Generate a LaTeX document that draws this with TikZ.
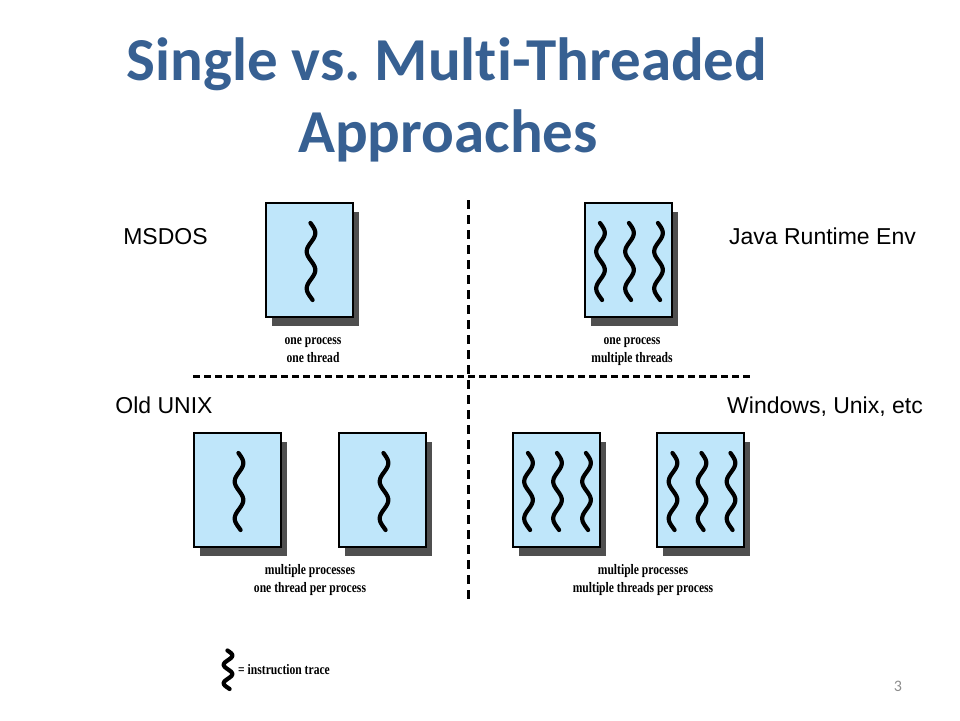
\documentclass[tikz,border=0pt]{standalone}
\usepackage{fontspec}
\setmainfont{Liberation Sans}
\newfontfamily\titlefont[Ligatures=NoCommon]{Carlito}
\newfontfamily\figfont[FakeStretch=0.8]{Liberation Serif}
\usetikzlibrary{shadows}
\definecolor{titleblue}{HTML}{376092}
\definecolor{procfill}{HTML}{BFE6FA}
\definecolor{shadowgray}{HTML}{4F4F4F}
\definecolor{pagegray}{HTML}{8C8C8C}
\frenchspacing
\begin{document}
\begin{tikzpicture}[x=1pt,y=-1pt,
  procbox/.style={draw=black, line width=2pt, fill=procfill,
    minimum width=87pt, minimum height=114pt, inner sep=0pt,
    drop shadow={shadow xshift=6pt, shadow yshift=-9pt, fill=shadowgray, opacity=1}},
  titletext/.style={text=titleblue, inner sep=0pt, anchor=base,
    font=\titlefont\bfseries\fontsize{61}{72}\selectfont},
  oslabel/.style={inner sep=0pt, anchor=base, font=\fontsize{23}{28}\selectfont},
  figlabel/.style={inner sep=0pt, anchor=base, font=\figfont\bfseries\fontsize{14.5}{16}\selectfont},
  divider/.style={line width=3pt},
  trace/.pic={\draw[line width=4.2pt, line cap=round]
     plot[smooth, domain=-37:40, samples=50] ({1.5+4.3*sin((\x+36.25)*9.72973)}, \x);}
]
\useasboundingbox (0,0) rectangle (960,720);

% title
\node[titletext] (title1) at (447,80) {Single vs.\ Multi-Threaded};
\node[titletext] (title2) at (448,152) {Approaches};

% dividers
\coordinate (vtop) at (468,200);
\coordinate (vbot) at (468,604);
\coordinate (hleft) at (193,376);
\coordinate (hright) at (750,376);
\draw[divider, dash pattern=on 9pt off 6pt] (vtop) -- (vbot);
\draw[divider, dash pattern=on 7pt off 4pt] (hleft) -- (hright);

% process boxes
\node[procbox] (pA) at (309.5,260) {};
\node[procbox] (pB) at (628,260) {};
\node[procbox] (pC) at (237.5,490) {};
\node[procbox] (pD) at (382.5,490) {};
\node[procbox] (pE) at (556,490) {};
\node[procbox] (pF) at (700.5,490) {};

% threads
\pic at (pA) {trace};
\foreach \n in {pB,pE,pF}{
  \pic at ([xshift=-29pt]\n.center) {trace};
  \pic at (\n.center) {trace};
  \pic at ([xshift=29pt]\n.center) {trace};
}
\pic at (pC) {trace};
\pic at (pD) {trace};

% figure labels
\node[figlabel] (lA1) at (313,344) {one process};
\node[figlabel] (lA2) at (313,362) {one thread};
\node[figlabel] (lB1) at (632,344) {one process};
\node[figlabel] (lB2) at (632,362) {multiple threads};
\node[figlabel] (lC1) at (310,574) {multiple processes};
\node[figlabel] (lC2) at (310,592) {one thread per process};
\node[figlabel] (lE1) at (643,574) {multiple processes};
\node[figlabel] (lE2) at (643,592) {multiple threads per process};

% OS labels
\node[oslabel] (msdos) at (165.5,244) {MSDOS};
\node[oslabel] (java) at (822.5,244) {Java Runtime Env};
\node[oslabel] (unix) at (164,413) {Old UNIX};
\node[oslabel] (win) at (825,413) {Windows, Unix, etc};

% legend
\pic[yscale=0.5] at (226.5,669) {trace};
\node[figlabel, anchor=base west] (legend) at (238,674) {= instruction trace};

% page number
\node[inner sep=0pt, anchor=base, text=pagegray, font=\titlefont\fontsize{16}{18}\selectfont] (pagenum) at (898,691) {3};
\end{tikzpicture}
\end{document}
